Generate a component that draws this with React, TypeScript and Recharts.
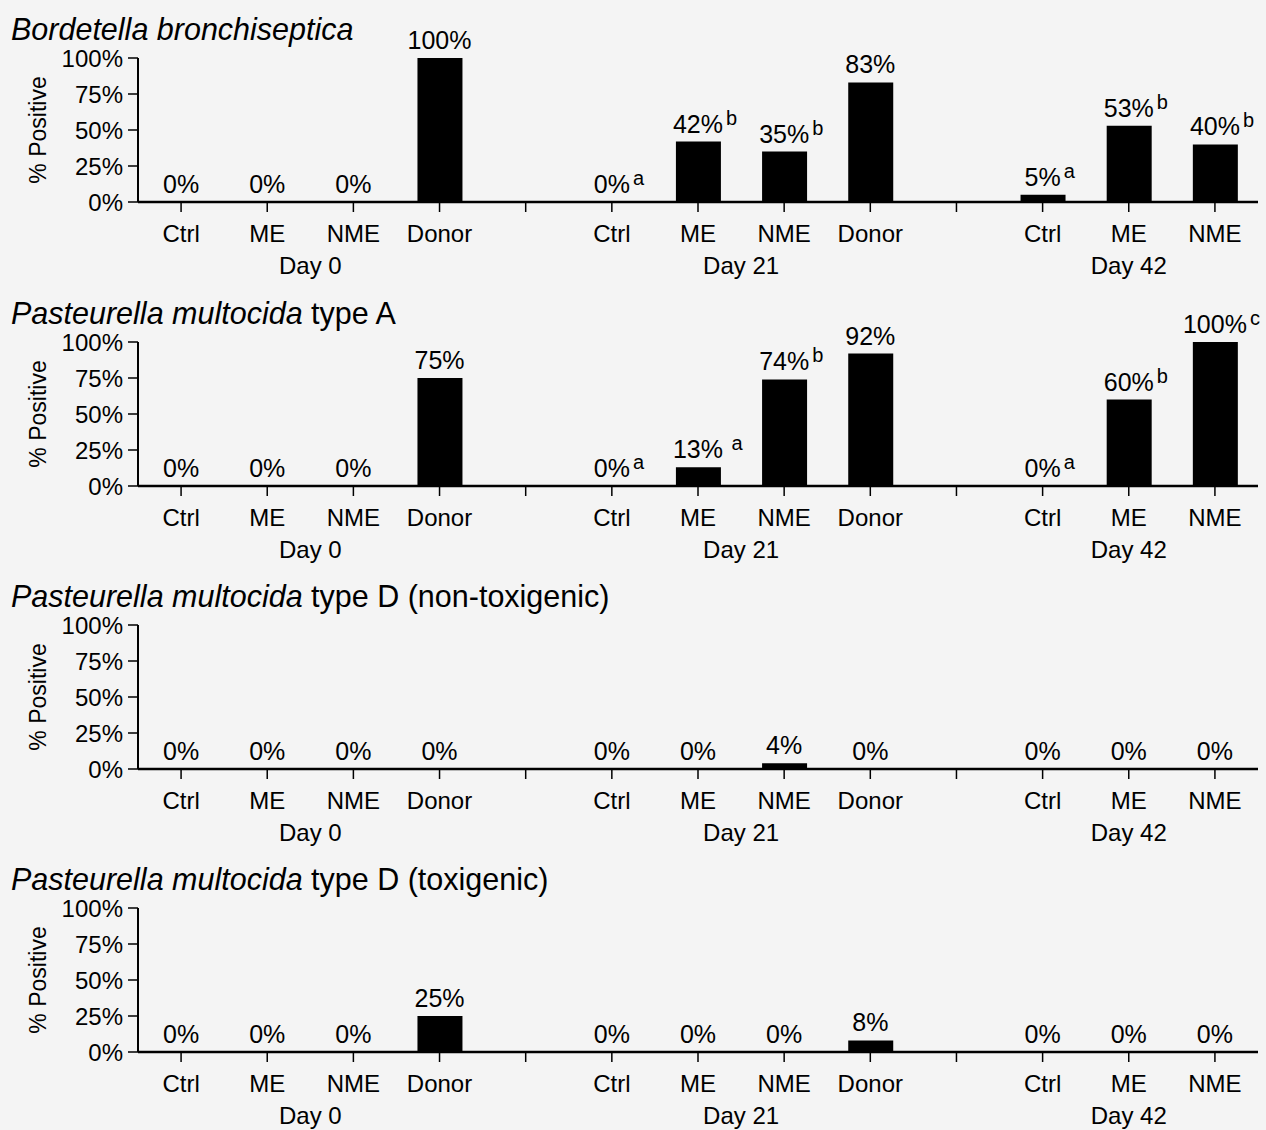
import React from 'react';
import { ComposedChart, Bar, Line, XAxis, YAxis, LabelList, Label } from 'recharts';

// ---------- data ----------
const categories = ['Ctrl', 'ME', 'NME', 'Donor', '', 'Ctrl', 'ME', 'NME', 'Donor', '', 'Ctrl', 'ME', 'NME'];
const dayGroups = [
  { label: 'Day 0', first: 0, last: 3 },
  { label: 'Day 21', first: 5, last: 8 },
  { label: 'Day 42', first: 10, last: 12 },
];
const yTicks = [0, 25, 50, 75, 100];

const bordetellaValues = [0, 0, 0, 100, null, 0, 42, 35, 83, null, 5, 53, 40];
const bordetellaSup = ['', '', '', '', '', 'a', 'b', 'b', '', '', 'a', 'b', 'b'];

const pmTypeAValues = [0, 0, 0, 75, null, 0, 13, 74, 92, null, 0, 60, 100];
const pmTypeASup = ['', '', '', '', '', 'a', ' a', 'b', '', '', 'a', 'b', 'c'];

const pmTypeDNonToxValues = [0, 0, 0, 0, null, 0, 0, 4, 0, null, 0, 0, 0];
const pmTypeDNonToxSup = ['', '', '', '', '', '', '', '', '', '', '', '', ''];

const pmTypeDToxValues = [0, 0, 0, 25, null, 0, 0, 0, 8, null, 0, 0, 0];
const pmTypeDToxSup = ['', '', '', '', '', '', '', '', '', '', '', '', ''];

const panels = [
  { italic: 'Bordetella bronchiseptica', rest: '', values: bordetellaValues, sups: bordetellaSup },
  { italic: 'Pasteurella multocida', rest: ' type A', values: pmTypeAValues, sups: pmTypeASup },
  { italic: 'Pasteurella multocida', rest: ' type D (non-toxigenic)', values: pmTypeDNonToxValues, sups: pmTypeDNonToxSup },
  { italic: 'Pasteurella multocida', rest: ' type D (toxigenic)', values: pmTypeDToxValues, sups: pmTypeDToxSup },
];

// ---------- layout ----------
const FONT = '"Liberation Sans", Arial, sans-serif';
const W = 1266;
const PANEL_TOPS = [8, 292, 575, 858];
const TOP_M = 50;
const PLOT_H = 144;
const XAXIS_H = 90;
const LEFT = 138;
const RIGHT_M = 8;
const PLOT_W = W - LEFT - RIGHT_M;
const BAND = PLOT_W / categories.length;
const VAL_FS = 25;

const charW = (s: string, size: number) => {
  let w = 0;
  for (const ch of s) {
    if (ch === '%') w += 0.889;
    else if (ch === ' ') w += 0.278;
    else w += 0.556;
  }
  return w * size;
};

const ValueLabel = (props: any) => {
  const raw = props.value;
  if (raw == null || raw === '') return null;
  const [main, supRaw] = String(raw).split('|');
  const x = props.x ?? props.viewBox?.x;
  const y = props.y ?? props.viewBox?.y;
  if (x == null || y == null) return null;
  const by = y - 9;
  const mainW = charW(main, VAL_FS);
  let sup = supRaw || '';
  let extra = 0;
  if (sup.startsWith(' ')) {
    extra = 5.5;
    sup = sup.trim();
  }
  return (
    <g>
      <text x={x} y={by} textAnchor="middle" fontSize={VAL_FS} fontFamily={FONT} fill="#000">
        {main}
      </text>
      {sup ? (
        <text x={x + mainW / 2 + 3 + extra} y={by - 8} textAnchor="start" fontSize={20} fontFamily={FONT} fill="#000">
          {sup}
        </text>
      ) : null}
    </g>
  );
};

const XTick = (props: any) => {
  const { x, y, payload } = props;
  const i = parseInt(String(payload.value).slice(1), 10);
  const label = categories[i];
  const group = dayGroups.find((g) => g.first === i);
  return (
    <g>
      {label ? (
        <text x={x} y={y + 30} textAnchor="middle" fontSize={24} fontFamily={FONT} fill="#000">
          {label}
        </text>
      ) : null}
      {group ? (
        <text
          x={x + ((group.last - group.first) * BAND) / 2}
          y={y + 62}
          textAnchor="middle"
          fontSize={24}
          fontFamily={FONT}
          fill="#000"
        >
          {group.label}
        </text>
      ) : null}
    </g>
  );
};

const YLabel = (props: any) => {
  const vb = props.viewBox;
  const cy = vb && vb.height ? vb.y + vb.height / 2 : TOP_M + PLOT_H / 2;
  const cx = 38;
  return (
    <text
      x={cx}
      y={cy}
      transform={`rotate(-90 ${cx} ${cy})`}
      textAnchor="middle"
      dominantBaseline="central"
      fontSize={23}
      fontFamily={FONT}
      fill="#000"
    >
      % Positive
    </text>
  );
};

const Panel = ({ panel, top }: { panel: (typeof panels)[number]; top: number }) => {
  const data = categories.map((c, i) => {
    const v = panel.values[i];
    return {
      key: `c${i}`,
      cat: c,
      value: v,
      label: v == null ? null : `${v}%|${panel.sups[i] || ''}`,
    };
  });
  return (
    <>
      <div style={{ position: 'absolute', left: 0, top }}>
        <ComposedChart
          width={W}
          height={TOP_M + PLOT_H + XAXIS_H}
          data={data}
          margin={{ top: TOP_M, right: RIGHT_M, bottom: 0, left: 0 }}
          barCategoryGap={0}
        >
          <XAxis
            dataKey="key"
            interval={0}
            height={XAXIS_H}
            tickSize={10}
            tickMargin={0}
            axisLine={{ stroke: '#000', strokeWidth: 2.5 }}
            tickLine={{ stroke: '#000', strokeWidth: 1.5 }}
            tick={<XTick />}
          />
          <YAxis
            width={LEFT}
            domain={[0, 100]}
            ticks={yTicks}
            interval={0}
            tickSize={10}
            tickMargin={5}
            tickFormatter={(v: number) => `${v}%`}
            axisLine={{ stroke: '#000', strokeWidth: 2 }}
            tickLine={{ stroke: '#000', strokeWidth: 1.5 }}
            tick={{ fill: '#000', fontSize: 24, fontFamily: FONT }}
            label={<Label content={YLabel} />}
          />
          <Bar dataKey="value" fill="#000" barSize={45} isAnimationActive={false} />
          <Line
            dataKey="value"
            stroke="none"
            dot={false}
            activeDot={false}
            legendType="none"
            isAnimationActive={false}
          >
            <LabelList dataKey="label" content={<ValueLabel />} />
          </Line>
        </ComposedChart>
      </div>
      <div
        style={{
          position: 'absolute',
          left: 11,
          top: top + TOP_M - 44.5,
          fontFamily: FONT,
          fontSize: 30.5,
          lineHeight: '30.5px',
          color: '#000',
          whiteSpace: 'pre',
        }}
      >
        <span style={{ fontStyle: 'italic' }}>{panel.italic}</span>
        {panel.rest}
      </div>
    </>
  );
};

export default function App() {
  return (
    <div
      style={{
        position: 'absolute',
        left: 0,
        top: 0,
        width: W,
        height: 1130,
        background: '#f4f4f4',
        overflow: 'hidden',
      }}
    >
      {panels.map((p, i) => (
        <Panel key={i} panel={p} top={PANEL_TOPS[i]} />
      ))}
    </div>
  );
}
